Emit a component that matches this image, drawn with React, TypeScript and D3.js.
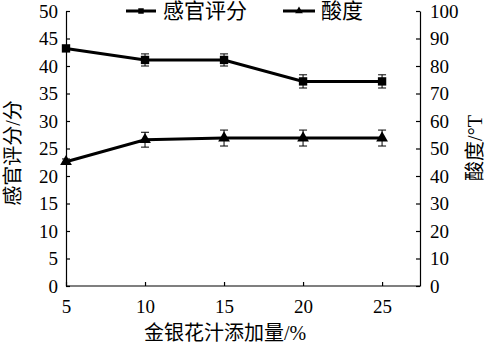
import React, { useEffect, useRef } from 'react';
import * as d3 from 'd3';

const additions = [5, 10, 15, 20, 25];
const sensoryScore = [43.2, 41.1, 41.1, 37.2, 37.2];
const sensoryErr = [0.4, 1.1, 1.1, 1.2, 1.2];
const acidity = [45.2, 53.2, 53.8, 53.8, 53.8];
const acidityErr = [1.0, 2.7, 2.9, 2.9, 2.9];
const leftTicks = [0, 5, 10, 15, 20, 25, 30, 35, 40, 45, 50];
const rightTicks = [0, 10, 20, 30, 40, 50, 60, 70, 80, 90, 100];

const App = () => {
  const svgRef = useRef<SVGSVGElement>(null);

  useEffect(() => {
    const width = 489;
    const height = 351;
    const left = 66;
    const right = 420;
    const top = 11;
    const bottom = 286;
    const font = 'Liberation Serif, DejaVu Serif, Noto Sans CJK SC, serif';

    const svg = d3.select(svgRef.current)
      .attr('width', width)
      .attr('height', height)
      .style('background', '#ffffff');
    svg.selectAll('*').remove();

    const x = d3.scaleLinear().domain([5, 27.4]).range([left, right]);
    const yL = d3.scaleLinear().domain([0, 50]).range([bottom, top]);
    const yR = d3.scaleLinear().domain([0, 100]).range([bottom, top]);

    // axes
    const xAxis = svg.append('g')
      .attr('transform', `translate(0, ${bottom})`)
      .call(d3.axisBottom(x).tickValues(additions).tickSize(-4).tickSizeOuter(0).tickPadding(10));
    xAxis.select('.domain').attr('d', `M${left},0H${right}`);

    const lAxis = svg.append('g')
      .attr('transform', `translate(${left}, 0)`)
      .call(d3.axisLeft(yL).tickValues(leftTicks).tickSize(-4).tickSizeOuter(0).tickPadding(8));

    const rAxis = svg.append('g')
      .attr('transform', `translate(${right}, 0)`)
      .call(d3.axisRight(yR).tickValues(rightTicks).tickSize(-4).tickSizeOuter(0).tickPadding(10));

    [xAxis, lAxis, rAxis].forEach(g => {
      g.attr('font-family', font).attr('font-size', 19);
      g.selectAll('path, line').attr('stroke', '#000').attr('stroke-width', 1.2);
      g.selectAll('text').attr('fill', '#000');
    });
    xAxis.selectAll('text').attr('dy', '0.9em');

    // axis titles
    svg.append('text')
      .attr('x', 225)
      .attr('y', 340)
      .attr('text-anchor', 'middle')
      .attr('font-family', font)
      .attr('font-size', 20)
      .text('金银花汁添加量/%');

    svg.append('text')
      .attr('transform', 'translate(20, 153) rotate(-90)')
      .attr('text-anchor', 'middle')
      .attr('font-family', font)
      .attr('font-size', 20)
      .text('感官评分/分');

    svg.append('text')
      .attr('transform', 'translate(482, 148) rotate(-90)')
      .attr('text-anchor', 'middle')
      .attr('font-family', font)
      .attr('font-size', 20)
      .text('酸度/°T');

    const drawSeries = (
      values: number[],
      errs: number[],
      y: d3.ScaleLinear<number, number>,
      symbol: d3.SymbolType,
      size: number
    ) => {
      const g = svg.append('g');
      g.append('path')
        .datum(values)
        .attr('fill', 'none')
        .attr('stroke', '#000')
        .attr('stroke-width', 3)
        .attr('d', d3.line<number>().x((d, i) => x(additions[i])).y(d => y(d)));

      values.forEach((v, i) => {
        const cx = x(additions[i]);
        const y1 = y(v + errs[i]);
        const y2 = y(v - errs[i]);
        g.append('line').attr('x1', cx).attr('x2', cx).attr('y1', y1).attr('y2', y2)
          .attr('stroke', '#000').attr('stroke-width', 1);
        [y1, y2].forEach(yy => {
          g.append('line').attr('x1', cx - 4).attr('x2', cx + 4).attr('y1', yy).attr('y2', yy)
            .attr('stroke', '#000').attr('stroke-width', 1);
        });
        g.append('path')
          .attr('transform', `translate(${cx}, ${y(v)})`)
          .attr('d', d3.symbol().type(symbol).size(size)())
          .attr('fill', '#000');
      });
    };

    drawSeries(sensoryScore, sensoryErr, yL, d3.symbolSquare, 70);
    drawSeries(acidity, acidityErr, yR, d3.symbolTriangle, 60);

    // legend
    const legend = [
      { name: '感官评分', symbol: d3.symbolSquare, size: 30, x0: 126, x1: 156, tx: 163 },
      { name: '酸度', symbol: d3.symbolTriangle, size: 26, x0: 283, x1: 315, tx: 321 },
    ];
    legend.forEach(l => {
      const ly = 11;
      svg.append('line').attr('x1', l.x0).attr('x2', l.x1).attr('y1', ly).attr('y2', ly)
        .attr('stroke', '#000').attr('stroke-width', 3);
      svg.append('path')
        .attr('transform', `translate(${(l.x0 + l.x1) / 2}, ${ly})`)
        .attr('d', d3.symbol().type(l.symbol).size(l.size)())
        .attr('fill', '#000');
      svg.append('text')
        .attr('x', l.tx)
        .attr('y', ly)
        .attr('dy', '0.35em')
        .attr('font-family', font)
        .attr('font-size', 21)
        .text(l.name);
    });
  }, []);

  return (
    <svg ref={svgRef} style={{ position: 'absolute', left: 0, top: 0 }}></svg>
  );
};

export default App;
